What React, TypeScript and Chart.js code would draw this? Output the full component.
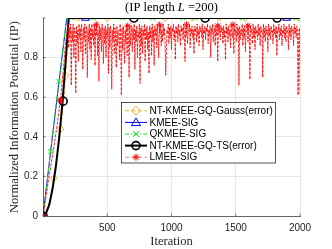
import React, { useEffect, useRef } from 'react';
import { Chart, registerables } from 'chart.js';

Chart.register(...registerables);

// ---------- data ----------
const X_MIN = 0;
const X_MAX = 2000;
const X_STEP = 500;
const Y_MIN = 0;
const Y_MAX = 1;
const Y_STEP = 0.2;

const TITLE_PRE = '(IP length ';
const TITLE_VAR = 'L';
const TITLE_POST = ' =200)';
const X_TITLE = 'Iteration';
const Y_TITLE = 'Normalized Information Potential (IP)';

const SERIES_NAMES = [
  'NT-KMEE-GQ-Gauss(error)',
  'KMEE-SIG',
  'QKMEE-SIG',
  'NT-KMEE-GQ-TS(error)',
  'LMEE-SIG',
];

// NT-KMEE-GQ-Gauss(error)
const GAUSS_ITER = [0, 25, 50, 84, 110, 137, 160, 176, 192, 205, 2000];
const GAUSS_IP = [0, 0.02, 0.07, 0.19, 0.3, 0.44, 0.58, 0.71, 0.86, 1, 1];
const GAUSS_MK_ITER = [0, 84, 137, 176, 270, 500, 950, 1160, 1370, 1575, 1990];
const GAUSS_MK_IP = [0, 0.19, 0.44, 0.71, 1, 1, 1, 1, 1, 1, 1];

// KMEE-SIG
const KMEE_ITER = [0, 60, 125, 185, 2000];
const KMEE_IP = [0, 0.33, 0.68, 1, 1];
const KMEE_MK_ITER = [0, 330, 1896];
const KMEE_MK_IP = [0, 1, 1];

// QKMEE-SIG
const QKMEE_ITER = [0, 59, 124, 183, 2000];
const QKMEE_IP = [0, 0.325, 0.68, 1, 1];
const QKMEE_MK_ITER = [0, 59, 124, 220, 392, 618, 852, 1088, 1181, 1550, 1970];
const QKMEE_MK_IP = [0, 0.325, 0.68, 1, 1, 1, 1, 1, 1, 1, 1];

// NT-KMEE-GQ-TS(error)
const TS_ITER = [0, 25, 50, 75, 100, 125, 150, 175, 200, 2000];
const TS_IP = [0, 0.016, 0.06, 0.14, 0.25, 0.39, 0.56, 0.77, 1, 1];
const TS_MK_ITER = [0, 157, 707, 1262, 1822];
const TS_MK_IP = [0, 0.58, 1, 1, 1];

// LMEE-SIG: rising part, then fluctuating part sampled every 5 iterations from 190
const LMEE_RISE_ITER = [0, 40, 80, 110, 136, 160, 175, 185];
const LMEE_RISE_IP = [0, 0.17, 0.33, 0.46, 0.585, 0.75, 0.87, 0.93];
const LMEE_NOISE_START = 190;
const LMEE_NOISE_STEP = 5;
const LMEE_NOISE_IP = [
  0.93, 0.97, 0.85, 0.95, 0.9, 0.97, 0.66, 0.94, 0.88, 0.97, 0.8, 0.95, 0.92, 0.62, 0.96, 0.87, 0.94, 0.78, 0.97, 0.9,
  0.95, 0.83, 0.97, 0.91, 0.74, 0.95, 0.89, 0.97, 0.82, 0.93, 0.96, 0.7, 0.94, 0.88, 0.97, 0.84, 0.95, 0.79, 0.97, 0.9,
  0.94, 0.86, 0.97, 0.76, 0.95, 0.91, 0.97, 0.81, 0.94, 0.68, 0.96, 0.89, 0.95, 0.83, 0.97, 0.92, 0.77, 0.95, 0.87, 0.96,
  0.8, 0.94, 0.9, 0.97, 0.72, 0.95, 0.85, 0.96, 0.91, 0.64, 0.94, 0.88, 0.97, 0.82, 0.95, 0.9, 0.75, 0.96, 0.86, 0.94,
  0.92, 0.79, 0.97, 0.88, 0.61, 0.95, 0.84, 0.96, 0.9, 0.77, 0.94, 0.87, 0.97, 0.81, 0.95, 0.91, 0.7, 0.96, 0.86, 0.93,
  0.96, 0.83, 0.95, 0.89, 0.97, 0.74, 0.94, 0.88, 0.96, 0.8, 0.93, 0.9, 0.97, 0.67, 0.95, 0.86, 0.96, 0.82, 0.94, 0.91,
  0.97, 0.78, 0.95, 0.89, 0.96, 0.84, 0.93, 0.72, 0.96, 0.9, 0.95, 0.81, 0.97, 0.88, 0.94, 0.76, 0.96, 0.91, 0.95, 0.85,
  0.97, 0.9, 0.8, 0.95, 0.92, 0.96, 0.86, 0.94, 0.88, 0.97, 0.91, 0.95, 0.88, 0.71, 0.83, 0.94, 0.92, 0.97, 0.87, 0.95,
  0.9, 0.96, 0.84, 0.95, 0.93, 0.97, 0.89, 0.94, 0.79, 0.96, 0.92, 0.95, 0.88, 0.97, 0.91, 0.94, 0.86, 0.96, 0.93, 0.95,
  0.89, 0.97, 0.92, 0.78, 0.95, 0.91, 0.96, 0.87, 0.94, 0.93, 0.97, 0.85, 0.95, 0.92, 0.96, 0.9, 0.94, 0.82, 0.96, 0.93,
  0.95, 0.88, 0.97, 0.91, 0.94, 0.86, 0.96, 0.93, 0.95, 0.9, 0.97, 0.84, 0.94, 0.92, 0.96, 0.89, 0.95, 0.93, 0.97, 0.87,
  0.94, 0.91, 0.96, 0.8, 0.95, 0.92, 0.97, 0.88, 0.93, 0.95, 0.86, 0.96, 0.91, 0.94, 0.78, 0.97, 0.92, 0.95, 0.89, 0.96,
  0.93, 0.95, 0.87, 0.96, 0.9, 0.94, 0.79, 0.97, 0.92, 0.95, 0.88, 0.96, 0.91, 0.94, 0.85, 0.97, 0.93, 0.9, 0.95, 0.82,
  0.96, 0.92, 0.94, 0.88, 0.97, 0.91, 0.95, 0.66, 0.96, 0.89, 0.94, 0.92, 0.97, 0.86, 0.95, 0.9, 0.96, 0.83, 0.94, 0.93,
  0.97, 0.88, 0.95, 0.91, 0.69, 0.96, 0.93, 0.94, 0.87, 0.97, 0.9, 0.95, 0.84, 0.96, 0.92, 0.94, 0.89, 0.97, 0.91, 0.95,
  0.86, 0.96, 0.93, 0.94, 0.7, 0.97, 0.9, 0.95, 0.88, 0.96, 0.92, 0.94, 0.83, 0.97, 0.91, 0.95, 0.89, 0.96, 0.93, 0.94,
  0.87, 0.97, 0.92, 0.95, 0.9, 0.96, 0.81, 0.94, 0.93, 0.97, 0.89, 0.95, 0.91, 0.96, 0.86, 0.94, 0.92, 0.97, 0.9, 0.95,
  0.88, 0.96, 0.93, 0.94, 0.84, 0.97, 0.91, 0.95, 0.89, 0.96, 0.93, 0.94, 0.86, 0.97, 0.92, 0.95, 0.9, 0.96, 0.93, 0.61,
  0.9, 0.95, 0.62,
];
const LMEE_MK_ITER = [0, 136, 415, 660, 908, 1117, 1360, 1478, 1595];
const LMEE_MK_IP = [0, 0.585, 0.965, 0.96, 0.965, 0.965, 0.96, 0.965, 0.96];

// ---------- styles ----------
const ORANGE = '#EDB120';
const BLUE = '#0000FF';
const GREEN = '#00FF00';
const BLACK = '#000000';
const RED = '#FF0000';
const RED_LINE = 'rgba(255,0,0,0.85)';
const AXIS = '#262626';
const GRID = '#e6e6e6';
const SANS = '"Liberation Sans", Arial, Helvetica, sans-serif';
const SERIF = '"Liberation Serif", "Times New Roman", serif';

const pts = (xs: number[], ys: number[]) => xs.map((x, i) => ({ x, y: ys[i] }));

function drawMarker(ctx: CanvasRenderingContext2D, kind: string, x: number, y: number, color: string) {
  ctx.save();
  ctx.strokeStyle = color;
  ctx.setLineDash([]);
  ctx.beginPath();
  if (kind === 'diamond') {
    ctx.lineWidth = 1;
    const r = 4.5;
    ctx.moveTo(x, y - r); ctx.lineTo(x + r, y); ctx.lineTo(x, y + r); ctx.lineTo(x - r, y); ctx.closePath();
  } else if (kind === 'triangle') {
    ctx.lineWidth = 1;
    const r = 4.5;
    ctx.moveTo(x, y - r); ctx.lineTo(x + r, y + r * 0.7); ctx.lineTo(x - r, y + r * 0.7); ctx.closePath();
  } else if (kind === 'x') {
    ctx.lineWidth = 1;
    const r = 3;
    ctx.moveTo(x - r, y - r); ctx.lineTo(x + r, y + r); ctx.moveTo(x + r, y - r); ctx.lineTo(x - r, y + r);
  } else if (kind === 'circle') {
    ctx.lineWidth = 1.6;
    ctx.arc(x, y, 4, 0, Math.PI * 2);
  } else if (kind === 'star') {
    ctx.lineWidth = 1;
    const r = 3.5;
    ctx.moveTo(x - r, y); ctx.lineTo(x + r, y);
    ctx.moveTo(x, y - r); ctx.lineTo(x, y + r);
    const d = r * 0.72;
    ctx.moveTo(x - d, y - d); ctx.lineTo(x + d, y + d);
    ctx.moveTo(x + d, y - d); ctx.lineTo(x - d, y + d);
  }
  ctx.stroke();
  ctx.restore();
}

const LEGEND_STYLE = [
  { color: ORANGE, dash: [4, 2.5], width: 1, marker: 'diamond' },
  { color: BLUE, dash: [], width: 1, marker: 'triangle' },
  { color: GREEN, dash: [4, 2, 1, 2], width: 1, marker: 'x' },
  { color: BLACK, dash: [], width: 2, marker: 'circle' },
  { color: 'rgba(255,90,90,0.8)', dash: [4, 2.5], width: 1, marker: 'star' },
];

const overlayPlugin = {
  id: 'overlay',
  beforeDatasetsDraw(chart: any) {
    const { ctx, chartArea: a, scales } = chart;
    ctx.save();
    ctx.strokeStyle = AXIS;
    ctx.lineWidth = 0.6;
    scales.x.ticks.forEach((t: any) => {
      const px = scales.x.getPixelForValue(t.value);
      ctx.beginPath(); ctx.moveTo(px, a.bottom); ctx.lineTo(px, a.bottom - 2.5); ctx.stroke();
    });
    scales.y.ticks.forEach((t: any) => {
      const py = scales.y.getPixelForValue(t.value);
      ctx.beginPath(); ctx.moveTo(a.left, py); ctx.lineTo(a.left + 2.5, py); ctx.stroke();
    });
    ctx.restore();
  },
  afterDraw(chart: any) {
    const { ctx, chartArea: a } = chart;
    ctx.save();
    ctx.fillStyle = '#000';
    ctx.textBaseline = 'middle';
    const fN = `12.5px ${SERIF}`;
    const fI = `italic 12.5px ${SERIF}`;
    ctx.font = fN; const w1 = ctx.measureText(TITLE_PRE).width; const w3 = ctx.measureText(TITLE_POST).width;
    ctx.font = fI; const w2 = ctx.measureText(TITLE_VAR).width;
    const cx = (a.left + a.right) / 2;
    let tx = cx - (w1 + w2 + w3) / 2;
    const ty = 8;
    ctx.textAlign = 'left';
    ctx.font = fN; ctx.fillText(TITLE_PRE, tx, ty); tx += w1;
    ctx.font = fI; ctx.fillText(TITLE_VAR, tx, ty); tx += w2;
    ctx.font = fN; ctx.fillText(TITLE_POST, tx, ty);
    ctx.textAlign = 'center';
    ctx.fillStyle = AXIS;
    ctx.font = `12.5px ${SERIF}`;
    ctx.fillText(X_TITLE, cx, 241.5);
    ctx.save();
    ctx.translate(15, (a.top + a.bottom) / 2);
    ctx.rotate(-Math.PI / 2);
    ctx.fillText(Y_TITLE, 0, 0);
    ctx.restore();

    const bx = 121.5, by = 102.5, bw = 154, bh = 60.5;
    ctx.fillStyle = '#fff';
    ctx.fillRect(bx, by, bw, bh);
    ctx.strokeStyle = AXIS;
    ctx.lineWidth = 0.8;
    ctx.strokeRect(bx, by, bw, bh);
    ctx.font = `10px ${SANS}`;
    ctx.textAlign = 'left';
    ctx.textBaseline = 'middle';
    SERIES_NAMES.forEach((name, i) => {
      const y = 110.8 + i * 11.6;
      const st = LEGEND_STYLE[i];
      ctx.save();
      ctx.strokeStyle = st.color;
      ctx.lineWidth = st.width;
      ctx.setLineDash(st.dash);
      ctx.beginPath(); ctx.moveTo(125, y); ctx.lineTo(147, y); ctx.stroke();
      ctx.restore();
      drawMarker(ctx, st.marker, 136, y, st.marker === 'star' ? RED : st.color);
      ctx.fillStyle = '#000';
      ctx.fillText(name, 149.5, y + 0.5);
    });
    ctx.restore();
  },
};

function markerSet(label: string, xs: number[], ys: number[], color: string, style: any, radius: number, width: number, order: number) {
  return {
    label,
    data: pts(xs, ys),
    showLine: false,
    borderColor: color,
    backgroundColor: 'rgba(0,0,0,0)',
    pointStyle: style,
    pointRadius: radius,
    pointBorderWidth: width,
    pointBackgroundColor: 'rgba(0,0,0,0)',
    pointBorderColor: color,
    order,
  };
}

function lineSet(label: string, data: any[], color: string, width: number, dash: number[], order: number) {
  return {
    label,
    data,
    borderColor: color,
    borderWidth: width,
    borderDash: dash,
    pointRadius: 0,
    fill: false,
    tension: 0,
    order,
  };
}

export default function App() {
  const ref = useRef<HTMLCanvasElement | null>(null);
  useEffect(() => {
    if (!ref.current) return;
    const lmeeData = [
      ...pts(LMEE_RISE_ITER, LMEE_RISE_IP),
      ...LMEE_NOISE_IP.map((v, i) => ({ x: LMEE_NOISE_START + i * LMEE_NOISE_STEP, y: v })),
    ];
    const datasets: any[] = [
      lineSet(SERIES_NAMES[0], pts(GAUSS_ITER, GAUSS_IP), ORANGE, 1, [4, 2.5], 9),
      markerSet(SERIES_NAMES[0], GAUSS_MK_ITER, GAUSS_MK_IP, ORANGE, 'rectRot', 3.3, 1, 8),
      lineSet(SERIES_NAMES[1], pts(KMEE_ITER, KMEE_IP), BLUE, 1, [], 7),
      markerSet(SERIES_NAMES[1], KMEE_MK_ITER, KMEE_MK_IP, BLUE, 'triangle', 4.5, 1, 6),
      lineSet(SERIES_NAMES[2], pts(QKMEE_ITER, QKMEE_IP), GREEN, 1, [4, 2, 1, 2], 5),
      markerSet(SERIES_NAMES[2], QKMEE_MK_ITER, QKMEE_MK_IP, GREEN, 'crossRot', 3.5, 1, 4),
      lineSet(SERIES_NAMES[3], pts(TS_ITER, TS_IP), BLACK, 2, [], 3),
      markerSet(SERIES_NAMES[3], TS_MK_ITER, TS_MK_IP, BLACK, 'circle', 4, 1.6, 2),
      lineSet(SERIES_NAMES[4], lmeeData, RED_LINE, 1, [3, 1.2], 1),
      markerSet(SERIES_NAMES[4], LMEE_MK_ITER, LMEE_MK_IP, RED, 'star', 3.5, 1, 0),
    ];
    const tickFont = { family: SANS, size: 10 };
    const chart = new Chart(ref.current, {
      type: 'line',
      data: { datasets },
      options: {
        animation: false,
        responsive: false,
        devicePixelRatio: 1,
        events: [],
        layout: { padding: { top: 18, right: 32, left: 0, bottom: 0 } },
        plugins: { legend: { display: false }, tooltip: { enabled: false }, title: { display: false } },
        scales: {
          x: {
            type: 'linear',
            min: X_MIN,
            max: X_MAX,
            afterFit: (s: any) => { s.height = 33; },
            ticks: {
              stepSize: X_STEP,
              maxRotation: 0,
              padding: 6,
              color: AXIS,
              font: tickFont,
              callback: (v: any) => (v === 0 ? '' : String(v)),
            },
            grid: { color: GRID, drawTicks: false, lineWidth: 1 },
            border: { color: '#444', width: 0.8 },
          },
          y: {
            type: 'linear',
            min: Y_MIN,
            max: Y_MAX,
            afterFit: (s: any) => { s.width = 43; },
            ticks: {
              stepSize: Y_STEP,
              padding: 5,
              color: AXIS,
              font: tickFont,
              callback: (v: any) => (v >= 0.999 ? '' : v === 0 ? '0' : Number(v).toFixed(1)),
            },
            grid: { color: (c: any) => (c.tick && c.tick.value >= 0.999 ? 'rgba(0,0,0,0)' : GRID), drawTicks: false, lineWidth: 1 },
            border: { color: '#444', width: 0.8 },
          },
        },
      },
      plugins: [overlayPlugin],
    } as any);
    return () => chart.destroy();
  }, []);
  return (
    <div style={{ position: 'fixed', left: 0, top: 0, width: 332, height: 249, background: '#fff' }}>
      <canvas ref={ref} width={332} height={249} style={{ width: 332, height: 249, display: 'block' }} />
    </div>
  );
}
